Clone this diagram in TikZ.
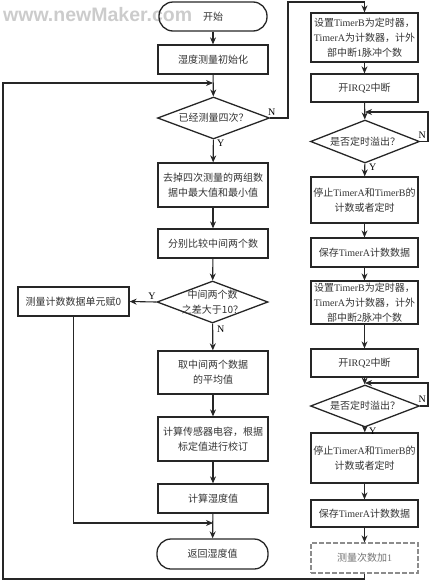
\documentclass[tikz,border=0pt]{standalone}
\usepackage{fontspec}
\setmainfont{Liberation Serif}
\newfontfamily\cjk{Noto Sans CJK SC}
\newfontfamily\wmfont{Liberation Sans}
\usetikzlibrary{shapes.geometric,arrows.meta}
\newcommand\tm[1]{{\rmfamily #1}}
\begin{document}
\begin{tikzpicture}[x=1pt,y=-1pt,
  box/.style={draw=black!85, line width=1.3pt, minimum width=110pt, minimum height=29pt,
    inner sep=1pt, align=center, text=black!80, font=\cjk\fontsize{10}{15}\selectfont},
  rbox/.style={box, minimum width=107pt},
  term/.style={box, rounded corners=14pt, minimum width=108pt},
  dia/.style={draw=black!85, line width=1.3pt, diamond, inner sep=0pt,
    minimum width=112pt, minimum height=42pt},
  dtext/.style={align=center, text=black!80, font=\cjk\fontsize{10}{15}\selectfont},
  conn/.style={draw=black!85, line width=1.1pt},
  arr/.style={conn, -{Stealth[length=7pt,width=6pt]}},
  lab/.style={font=\rmfamily\fontsize{10}{12}\selectfont, inner sep=0pt}]
\useasboundingbox (0,0) rectangle (433,584);
% watermark
\node[anchor=west, text=black!20, font=\wmfont\bfseries\fontsize{19.5}{19.5}\selectfont, inner sep=0pt] (wm) at (3,15) {www.newMaker.com};
% left column
\node[term] (start) at (213,16.5) {开始};
\node[box] (init) at (213,59.5) {湿度测量初始化};
\node[dia] (d1) at (213.5,118) {};
\node[dtext] (d1t) at (d1.center) {已经测量四次？};
\node[box, minimum height=44pt] (b3) at (213,185) {去掉四次测量的两组数\\据中最大值和最小值};
\node[box] (b4) at (213,243.5) {分别比较中间两个数};
\node[dia, minimum width=111pt] (d2) at (212.5,302) {};
\node[dtext] (d2t) at (d2.center) {中间两个数\\之差大于10？};
\node[box, minimum width=111pt] (b5) at (73.5,301.5) {测量计数数据单元赋0};
\node[box, minimum height=43pt] (b6) at (213,372.5) {取中间两个数据\\的平均值};
\node[box, minimum height=44pt] (b7) at (213,439) {计算传感器电容，根据\\标定值进行校订};
\node[box] (b8) at (213,498.5) {计算湿度值};
\node[term, minimum width=111pt, minimum height=30pt] (end) at (212.5,554) {返回湿度值};
% right column
\node[rbox, minimum height=49pt] (r1) at (364.5,37.5) {设置\tm{TimerB}为定时器，\\\tm{TimerA}为计数器，计外\\部中断\tm{1}脉冲个数};
\node[rbox, minimum height=28pt] (r2) at (364.5,88) {开\tm{IRQ2}中断};
\node[dia, minimum width=109pt, minimum height=43pt] (rd1) at (365,141.5) {};
\node[dtext] (rd1t) at (rd1.center) {是否定时溢出？};
\node[rbox, minimum height=46pt] (r3) at (364.5,200) {停止\tm{TimerA}和\tm{TimerB}的\\计数或者定时};
\node[rbox] (r4) at (364.5,252.5) {保存\tm{TimerA}计数数据};
\node[rbox, minimum height=43pt] (r5) at (364.5,302.5) {设置\tm{TimerB}为定时器，\\\tm{TimerA}为计数器，计外\\部中断\tm{2}脉冲个数};
\node[rbox, minimum height=28pt] (r6) at (364.5,363) {开\tm{IRQ2}中断};
\node[dia, minimum width=109pt, minimum height=42pt] (rd2) at (365,406) {};
\node[dtext] (rd2t) at (rd2.center) {是否定时溢出？};
\node[rbox, minimum height=50pt] (r7) at (364.5,458) {停止\tm{TimerA}和\tm{TimerB}的\\计数或者定时};
\node[rbox, minimum height=27pt] (r8) at (364.5,513.5) {保存\tm{TimerA}计数数据};
\node[rbox, minimum height=30pt, draw=black!45, dash pattern=on 5pt off 2pt, text=black!55] (r9) at (364.5,558) {测量次数加\tm{1}};
% coordinates
\coordinate (j1) at (213,83);
\coordinate (j2) at (213,523);
\coordinate (rj1) at (365,112);
\coordinate (rj2) at (365,383);
% left connectors
\draw[arr] (start) -- (init);
\draw[arr] (init) -- (d1);
\draw[arr] (d1) -- (b3);
\draw[arr] (b3) -- (b4);
\draw[arr] (b4) -- (d2);
\draw[arr] (d2) -- (b6);
\draw[arr] (d2.west) -- (b5.east);
\draw[arr] (b6) -- (b7);
\draw[arr] (b7) -- (b8);
\draw[arr] (b8) -- (end);
\draw[arr] (b5.south) |- (j2);
\draw[arr] (d1.east) -- (288,118) -- (288,2) -- (364.5,2) -- (r1.north);
% right connectors
\draw[arr] (r1) -- (r2);
\draw[arr] (r2) -- (rd1);
\draw[arr] (rd1.east) -- (428,141.5) -- (428,112) -- (rj1);
\draw[arr] (rd1) -- (r3);
\draw[arr] (r3) -- (r4);
\draw[arr] (r4) -- (r5);
\draw[arr] (r5) -- (r6);
\draw[arr] (r6) -- (rd2);
\draw[arr] (rd2.east) -- (428,406) -- (428,383) -- (rj2);
\draw[arr] (rd2) -- (r7);
\draw[arr] (r7) -- (r8);
\draw[arr] (r8) -- (r9);
\draw[arr] (r9.south) -- (364.5,579) -- (3,579) -- (3,83) -- (j1);
% labels
\node[lab, anchor=south west] (n1) at (268,116) {N};
\node[lab, anchor=north west] (y1) at (217,140) {Y};
\node[lab, anchor=south] (y2) at (152,300) {Y};
\node[lab, anchor=north west] (n2) at (217,326) {N};
\node[lab, anchor=south east] (n3) at (426,139) {N};
\node[lab, anchor=north west] (y3) at (369,164) {Y};
\node[lab, anchor=south east] (n4) at (426,403) {N};
\node[lab, anchor=north west] (y4) at (369,428) {Y};
\end{tikzpicture}
\end{document}
